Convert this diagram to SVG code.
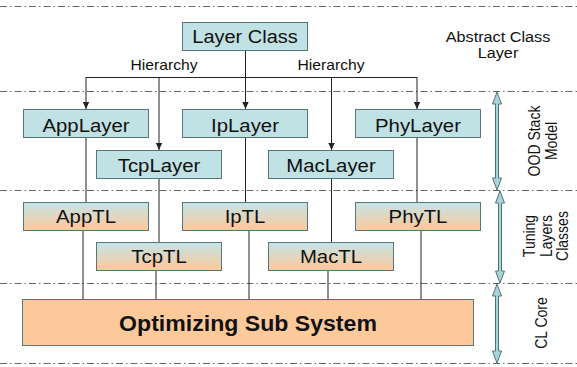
<svg xmlns="http://www.w3.org/2000/svg" width="577" height="367" viewBox="0 0 577 367">
<style>
.sep{stroke:#666;stroke-width:1;stroke-dasharray:7 3 1.5 3;fill:none}
.box{fill:#c1e2e4;stroke:#56767c;stroke-width:1}
.tl{fill:url(#g);stroke:#56767c;stroke-width:1}
.lbl{font-family:"Liberation Sans",Arial,sans-serif;font-size:18.5px;fill:#111;text-anchor:middle}
.sm{font-family:"Liberation Sans",Arial,sans-serif;font-size:14px;fill:#111;text-anchor:middle}
.rt{font-family:"Liberation Sans",Arial,sans-serif;font-size:14px;fill:#111;text-anchor:middle}
.ln{stroke:#222;stroke-width:1;fill:none}
.ar{stroke:#222;stroke-width:1;fill:none;marker-end:url(#ah)}
.dbl{fill:#a9d4d8;stroke:#4f7378;stroke-width:1}
</style>
<defs>
<linearGradient id="g" x1="0" y1="0" x2="0" y2="1">
<stop offset="0" stop-color="#c6e4e8"/>
<stop offset="1" stop-color="#fcc898"/>
</linearGradient>
<marker id="ah" markerWidth="8" markerHeight="8" refX="7" refY="4" orient="auto" markerUnits="userSpaceOnUse">
<path d="M0,0.8 L7,4 L0,7.2 Z" fill="#222"/>
</marker>
</defs>
<rect width="577" height="367" fill="#fff"/>
<g id="separators">
<line class="sep" x1="0" y1="6.5" x2="577" y2="6.5"/>
<line class="sep" x1="0" y1="91.5" x2="577" y2="91.5"/>
<line class="sep" x1="0" y1="190.5" x2="577" y2="190.5"/>
<line class="sep" x1="0" y1="283.5" x2="577" y2="283.5"/>
<line class="sep" x1="0" y1="363.5" x2="577" y2="363.5"/>
</g>
<g id="connectors">
<line class="ln" x1="245.5" y1="51" x2="245.5" y2="77"/>
<line class="ln" x1="86" y1="77.5" x2="417" y2="77.5"/>
<line class="ar" x1="86" y1="77" x2="86" y2="109"/>
<line class="ar" x1="159" y1="77" x2="159" y2="150"/>
<line class="ar" x1="245.5" y1="77" x2="245.5" y2="109"/>
<line class="ar" x1="331.5" y1="77" x2="331.5" y2="150"/>
<line class="ar" x1="417" y1="77" x2="417" y2="109"/>
<line class="ln" x1="86" y1="138" x2="86" y2="202"/>
<line class="ln" x1="159" y1="178" x2="159" y2="242"/>
<line class="ln" x1="245.5" y1="138" x2="245.5" y2="202"/>
<line class="ln" x1="331.5" y1="178" x2="331.5" y2="242"/>
<line class="ln" x1="417" y1="138" x2="417" y2="202"/>
<line class="ln" x1="83" y1="231" x2="83" y2="299"/>
<line class="ln" x1="156" y1="271" x2="156" y2="299"/>
<line class="ln" x1="249" y1="231" x2="249" y2="299"/>
<line class="ln" x1="328" y1="271" x2="328" y2="299"/>
<line class="ln" x1="421" y1="231" x2="421" y2="299"/>
<text class="sm" transform="translate(164,70) scale(1.12,1)">Hierarchy</text>
<text class="sm" transform="translate(331,70) scale(1.12,1)">Hierarchy</text>
</g>
<g id="layerclass"><rect class="box" x="182.5" y="22.5" width="125" height="28"/><text class="lbl" transform="translate(245,43) scale(1.08,1)">Layer Class</text></g>
<g id="applayer"><rect class="box" x="23.5" y="109.5" width="125" height="28"/><text class="lbl" transform="translate(86,131.5) scale(1.1,1)">AppLayer</text></g>
<g id="iplayer"><rect class="box" x="182.5" y="109.5" width="125" height="28"/><text class="lbl" transform="translate(245,131.5) scale(1.1,1)">IpLayer</text></g>
<g id="phylayer"><rect class="box" x="355.5" y="109.5" width="125" height="28"/><text class="lbl" transform="translate(418,131.5) scale(1.1,1)">PhyLayer</text></g>
<g id="tcplayer"><rect class="box" x="96.5" y="150.5" width="125" height="28"/><text class="lbl" transform="translate(159,172) scale(1.1,1)">TcpLayer</text></g>
<g id="maclayer"><rect class="box" x="268.5" y="150.5" width="125" height="28"/><text class="lbl" transform="translate(331,172) scale(1.1,1)">MacLayer</text></g>
<g id="apptl"><rect class="tl" x="23.5" y="202.5" width="125" height="28"/><text class="lbl" transform="translate(86,223) scale(1.1,1)">AppTL</text></g>
<g id="iptl"><rect class="tl" x="182.5" y="202.5" width="125" height="28"/><text class="lbl" transform="translate(245,223) scale(1.1,1)">IpTL</text></g>
<g id="phytl"><rect class="tl" x="355.5" y="202.5" width="125" height="28"/><text class="lbl" transform="translate(418,223) scale(1.1,1)">PhyTL</text></g>
<g id="tcptl"><rect class="tl" x="96.5" y="242.5" width="125" height="28"/><text class="lbl" transform="translate(159,263) scale(1.1,1)">TcpTL</text></g>
<g id="mactl"><rect class="tl" x="268.5" y="242.5" width="125" height="28"/><text class="lbl" transform="translate(331,263) scale(1.1,1)">MacTL</text></g>
<g id="optimizing"><rect x="22.5" y="299.5" width="451" height="46" fill="#fcc99b" stroke="#56767c"/><text class="lbl" transform="translate(248,331) scale(1.05,1)" style="font-size:22px;font-weight:bold">Optimizing Sub System</text></g>
<g id="scale">
<path class="dbl" d="M497,92 L501.5,104 L498.5,104 L498.5,178 L501.5,178 L497,190 L492.5,178 L495.5,178 L495.5,104 L492.5,104 Z"/>
<path class="dbl" d="M500,191 L504.5,203 L501.5,203 L501.5,271 L504.5,271 L500,283 L495.5,271 L498.5,271 L498.5,203 L495.5,203 Z"/>
<path class="dbl" d="M497,284 L501.5,296 L498.5,296 L498.5,351 L501.5,351 L497,363 L492.5,351 L495.5,351 L495.5,296 L492.5,296 Z"/>
</g>
<g id="labels">
<text class="sm" transform="translate(498,42) scale(1.12,1)" style="font-size:14.5px">Abstract Class</text>
<text class="sm" transform="translate(498,58) scale(1.12,1)" style="font-size:14.5px">Layer</text>
<g transform="translate(543,141) scale(1.12,1) rotate(-90)"><text class="rt" x="0" y="-3">OOD Stack</text><text class="rt" x="0" y="12.5">Model</text></g>
<g transform="translate(546,236) scale(1.12,1) rotate(-90)"><text class="rt" x="0" y="-10">Tuning</text><text class="rt" x="0" y="5">Layers</text><text class="rt" x="0" y="20">Classes</text></g>
<g transform="translate(541,323) scale(1.12,1) rotate(-90)"><text class="rt" x="0" y="5">CL Core</text></g>
</g>
</svg>
